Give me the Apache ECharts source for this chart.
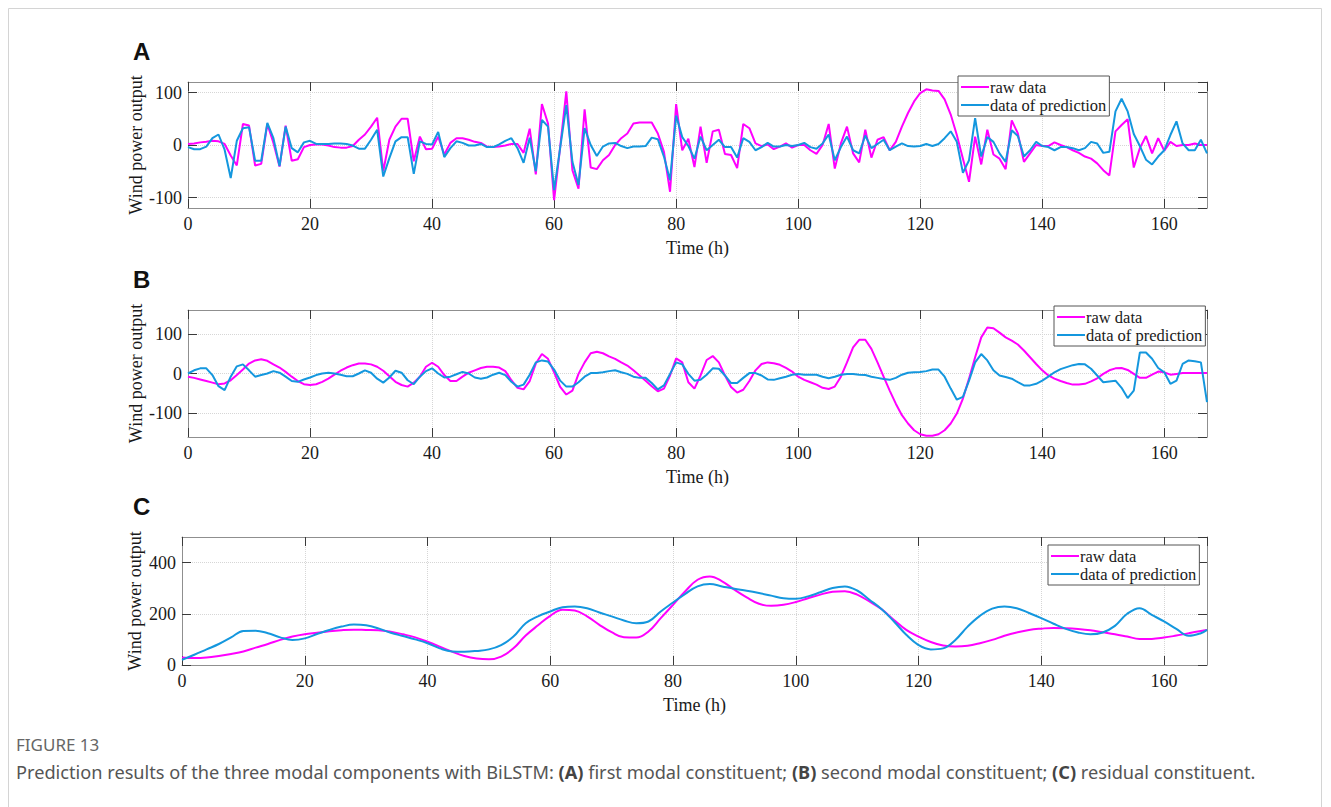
<!DOCTYPE html>
<html>
<head>
<meta charset="utf-8">
<script src="https://cdn.jsdelivr.net/npm/echarts@6/dist/echarts.min.js"></script>
<style>
html,body{margin:0;padding:0;background:#fff;}
#chart{width:1331px;height:807px;}
</style>
</head>
<body>
<div id="chart"></div>
<script>
// ---------- DATA ----------
const seriesNames = ['raw data', 'data of prediction'];
const xTickLabels = [0, 20, 40, 60, 80, 100, 120, 140, 160];

// Panel A: first modal constituent (hourly, t = 0..167)
const rawA = [2,3,5,6,8,7,2,-20,-39,40,37,-39,-36,40,4,-41,37,-30,-27,-4,
  0,1,1,-1,-4,-5,-5,-2,10,20,35,52,-50,10,35,50,50,-31,16,-8,
  -7,16,-18,4,13,13,10,6,4,-3,-4,-3,-1,2,2,-15,31,-56,78,41,
  -105,-3,102,-48,-83,68,-43,-46,-29,-19,0,13,22,41,43,43,43,22,-13,-89,
  78,-10,12,-42,35,-34,26,29,-17,-19,-44,40,32,3,-2,1,-8,-3,3,-5,
  0,0,-10,-17,0,40,-45,3,35,-16,-33,29,-24,10,15,-10,6,35,61,83,
  99,106,104,103,87,58,19,-26,-70,16,-37,29,-18,-26,-46,47,22,-32,-16,0,
  -2,-2,5,0,-4,-10,-15,-22,-26,-35,-48,-58,26,38,49,-43,-6,17,-16,13,
  -11,6,-2,0,0,3,0,0];
const predA = [-4,-8,-8,-3,13,20,-9,-63,8,32,34,-30,-30,42,13,-40,35,-6,-14,5,
  8,2,2,2,3,3,2,-1,-7,-7,10,29,-60,-25,7,15,15,-55,7,2,
  1,25,-23,-6,7,4,-1,-1,2,-4,-4,1,8,13,-6,-34,14,-50,48,35,
  -86,-5,76,-32,-76,32,0,-21,-3,3,4,-2,-6,-3,-3,-2,14,11,-22,-67,
  56,15,-2,-26,16,-10,0,10,-4,-4,-24,13,6,-10,-4,4,-3,-3,0,-2,
  0,4,-4,-7,3,20,-29,-4,16,-10,-16,18,-6,2,10,-10,-3,3,-2,-3,
  -2,2,-2,2,13,26,6,-53,-29,51,-22,15,6,-16,-32,28,17,-22,-10,6,
  -2,-4,-10,-4,-4,-6,-10,-6,6,3,-15,-13,64,88,64,21,-2,-28,-37,-22,
  -10,19,45,3,-10,-10,10,-16];

// Panel B: second modal constituent (hourly, t = 0..167)
const rawB = [-8,-11,-15,-19,-23,-27,-25,-17,-4,10,25,33,36,32,23,15,4,-8,-19,-27,
  -29,-27,-21,-13,-3,7,15,21,25,25,23,17,7,-7,-21,-29,-33,-23,-8,17,
  27,17,-4,-19,-19,-8,2,8,14,17,17,15,6,-17,-36,-40,-19,25,49,37,
  3,-34,-53,-43,-1,28,51,55,51,43,37,28,20,8,-5,-18,-32,-45,-38,-5,
  38,28,-22,-38,-5,34,44,28,-5,-34,-48,-41,-19,8,24,28,26,22,14,5,
  -8,-16,-22,-28,-36,-39,-33,-8,28,66,85,85,62,28,-8,-43,-76,-105,-126,-143,
  -153,-157,-157,-153,-143,-126,-101,-63,-13,41,91,116,114,103,91,83,73,58,41,24,
  8,-5,-13,-19,-24,-28,-28,-26,-20,-12,-1,8,13,14,9,-1,-11,-11,-3,5,
  3,-3,-1,1,1,1,1,1];
const predB = [0,8,13,13,-4,-32,-42,-8,18,23,8,-8,-4,0,6,2,-8,-19,-21,-15,
  -10,-4,0,2,0,-3,-7,-7,0,8,2,-13,-23,-10,7,2,-17,-27,-8,6,
  13,0,-10,-8,-2,4,0,-10,-13,-10,-3,2,-4,-21,-33,-28,-3,28,33,30,
  10,-18,-33,-33,-22,-8,1,1,3,6,8,3,-1,-8,-11,-11,-24,-40,-30,-1,
  28,23,-1,-18,-16,-3,13,12,-5,-24,-24,-11,1,1,-5,-15,-16,-12,-8,-3,
  -1,-3,-3,-3,-8,-12,-8,-3,-1,-1,-3,-4,-8,-11,-14,-16,-11,-3,2,3,
  4,6,10,10,-8,-38,-66,-59,-18,28,49,33,8,-5,-9,-13,-22,-30,-30,-26,
  -18,-8,3,11,16,21,24,23,12,-5,-22,-20,-18,-36,-62,-43,53,53,37,14,
  3,-26,-18,24,33,31,28,-72];

// Panel C: residual constituent (read every 2 h)
const timeC = [0,2,4,6,8,10,12,14,16,18,20,22,24,26,28,30,32,34,36,38,
  40,42,44,46,48,50,52,54,56,58,60,62,64,66,68,70,72,74,76,78,
  80,82,84,86,88,90,92,94,96,98,100,102,104,106,108,110,112,114,116,118,
  120,122,124,126,128,130,132,134,136,138,140,142,144,146,148,150,152,154,156,158,
  160,162,164,166,167];
const rawC = [29,27,29,35,43,53,68,82,98,111,120,126,132,136,138,137,136,130,120,108,
  91,72,52,35,25,22,33,65,115,155,192,216,213,190,157,128,108,107,131,183,
  235,288,333,346,327,294,264,239,231,235,246,261,275,286,288,275,248,218,176,137,
  111,90,76,72,75,85,98,114,127,137,142,145,144,141,136,128,120,111,102,102,
  107,115,124,133,137];
const predC = [20,40,61,82,108,133,134,124,108,98,104,121,137,150,158,155,143,126,113,100,
  85,65,53,52,55,61,78,111,163,190,209,226,229,222,205,190,174,163,170,209,
  244,278,307,316,307,298,290,281,271,261,259,268,284,301,307,291,255,218,170,118,
  78,61,65,98,150,192,220,229,222,203,183,161,141,127,120,127,153,200,222,196,
  170,141,114,124,137];

const panelLetters = ['A', 'B', 'C'];
const yTickLabelsA = [-100, 0, 100];
const yTickLabelsB = [-100, 0, 100];
const yTickLabelsC = [0, 200, 400];
const captionTitle = 'FIGURE 13';

// ---------- STYLE ----------
const SERIF = '"Liberation Serif", "Times New Roman", serif';
const SANS = '"Liberation Sans", Arial, sans-serif';
const CAP_FONT = '"Noto Sans", "Open Sans", sans-serif';
const RAW_COLOR = '#FF00FF';
const PRED_COLOR = '#1497DE';
const BORDER = '#8f8f8f';
const TICK = '#3a3a3a';
const GRIDLINE = '#d6d6d6';

const grids = [
  {left: 188, top: 82, width: 1019, height: 126},
  {left: 188, top: 310, width: 1019, height: 127},
  {left: 182, top: 537, width: 1025, height: 128}
];

function toPairs(xs, ys) { return ys.map((v, i) => [xs[i], v]); }
const hoursAB = rawA.map((_, i) => i);

function xAxesFor(g) {
  const base = {
    type: 'value', gridIndex: g, min: 0, max: 167, interval: 20,
    axisLine: {show: true, onZero: false, lineStyle: {color: BORDER, width: 1}},
    axisTick: {show: true, inside: true, length: 9, lineStyle: {color: TICK, width: 1}}
  };
  return [
    Object.assign({}, base, {
      position: 'bottom',
      axisLabel: {show: true, showMaxLabel: false, margin: 7, color: '#1a1a1a',
        fontFamily: SERIF, fontSize: 18,
        formatter: v => (xTickLabels.indexOf(v) >= 0 ? String(v) : '')},
      splitLine: {show: true, lineStyle: {color: GRIDLINE, type: 'dotted', width: 1}},
      name: 'Time (h)', nameLocation: 'middle', nameGap: 31, nameMoveOverlap: false,
      nameTextStyle: {fontFamily: SERIF, fontSize: 18, color: '#1a1a1a'}
    }),
    Object.assign({}, base, {
      position: 'top', axisLabel: {show: false}, splitLine: {show: false}
    })
  ];
}

function yAxesFor(g, min, max, tickSpec, labels, gap) {
  const base = Object.assign({
    type: 'value', gridIndex: g, min: min, max: max,
    axisLine: {show: true, onZero: false, lineStyle: {color: BORDER, width: 1}},
    axisTick: {show: true, inside: true, length: 9, lineStyle: {color: TICK, width: 1}}
  }, tickSpec);
  return [
    Object.assign({}, base, {
      position: 'left',
      axisLabel: {show: true, showMinLabel: labels.indexOf(min) >= 0, showMaxLabel: false,
        margin: 6, color: '#1a1a1a', fontFamily: SERIF, fontSize: 18,
        formatter: v => (labels.indexOf(v) >= 0 ? String(v) : '')},
      splitLine: {show: true, lineStyle: {color: GRIDLINE, type: 'dotted', width: 1}},
      name: 'Wind power output', nameLocation: 'middle', nameGap: gap, nameRotate: 90,
      nameMoveOverlap: false,
      nameTextStyle: {fontFamily: SERIF, fontSize: 18, color: '#1a1a1a'}
    }),
    Object.assign({}, base, {
      position: 'right', axisLabel: {show: false}, splitLine: {show: false}
    })
  ];
}

const xAxis = [].concat(xAxesFor(0), xAxesFor(1), xAxesFor(2));
const yAxis = [].concat(
  yAxesFor(0, -120, 120, {splitNumber: 2}, yTickLabelsA, 43),
  yAxesFor(1, -160, 160, {splitNumber: 3}, yTickLabelsB, 43),
  yAxesFor(2, 0, 500, {interval: 200}, yTickLabelsC, 38)
);

function lineSeries(name, color, data, g, smooth) {
  return {
    type: 'line', name: name, xAxisIndex: g * 2, yAxisIndex: g * 2,
    data: data, symbol: 'none', smooth: smooth, animation: false,
    lineStyle: {color: color, width: 2}, itemStyle: {color: color},
    z: name === seriesNames[0] ? 3 : 4
  };
}

const series = [
  lineSeries(seriesNames[0], RAW_COLOR, toPairs(hoursAB, rawA), 0, false),
  lineSeries(seriesNames[1], PRED_COLOR, toPairs(hoursAB, predA), 0, false),
  lineSeries(seriesNames[0], RAW_COLOR, toPairs(hoursAB, rawB), 1, false),
  lineSeries(seriesNames[1], PRED_COLOR, toPairs(hoursAB, predB), 1, false),
  lineSeries(seriesNames[0], RAW_COLOR, toPairs(timeC, rawC), 2, 0.4),
  lineSeries(seriesNames[1], PRED_COLOR, toPairs(timeC, predC), 2, 0.4)
];

function legendAt(left, top) {
  return {
    data: seriesNames.map(n => ({name: n, icon: 'rect'})),
    orient: 'vertical', left: left, top: top,
    padding: [2, 3, 2, 3], itemGap: 0, itemWidth: 28, itemHeight: 2,
    backgroundColor: '#fff', borderColor: '#555', borderWidth: 1, borderRadius: 0,
    selectedMode: false, z: 10,
    textStyle: {fontFamily: SERIF, fontSize: 16.5, color: '#1a1a1a', lineHeight: 18, padding: [0, 0, 0, -4]}
  };
}

const letterY = [53, 281, 508];
const graphic = [
  {type: 'rect', silent: true, shape: {x: 8.5, y: 8.5, width: 1313, height: 840},
    style: {fill: 'none', stroke: '#d4d4d4', lineWidth: 1}, z: -10}
].concat(panelLetters.map((L, i) => ({
  type: 'text', left: 133, top: letterY[i] - 14,
  style: {text: L, fontFamily: SANS, fontWeight: 'bold', fontSize: 24, fill: '#111'}
}))).concat([
  {type: 'text', left: 16, top: 736,
    style: {text: captionTitle, fontFamily: CAP_FONT, fontSize: 17, fill: '#666'}},
  {type: 'text', left: 16, top: 763,
    style: {
      text: 'Prediction results of the three modal components with BiLSTM: {b|(A)} first modal constituent; {b|(B)} second modal constituent; {b|(C)} residual constituent.',
      fontFamily: CAP_FONT, fontSize: 18.2, fill: '#555',
      rich: {b: {fontFamily: CAP_FONT, fontSize: 18.2, fontWeight: 'bold', fill: '#444'}}
    }}
]);

const chart = echarts.init(document.getElementById('chart'), null, {renderer: 'svg'});
chart.setOption({
  backgroundColor: '#fff',
  animation: false,
  grid: grids,
  xAxis: xAxis,
  yAxis: yAxis,
  legend: [legendAt(958, 76), legendAt(1054, 306), legendAt(1048, 545)],
  series: series,
  graphic: graphic
});
</script>
</body>
</html>
